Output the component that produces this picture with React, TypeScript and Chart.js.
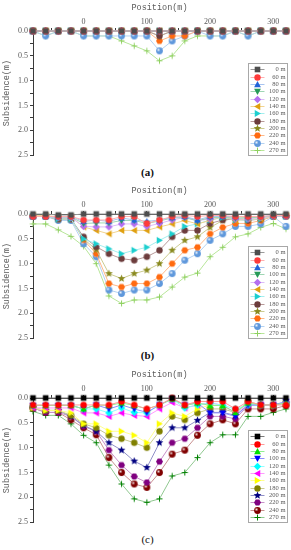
import React, { useEffect, useRef } from "react";
import { Chart, registerables } from "chart.js";
Chart.register(...registerables);

// ---------- DATA ----------
const POSITIONS = [-80, -60, -40, -20, 0, 20, 40, 60, 80, 100, 120, 140, 160, 180, 200, 220, 240, 260, 280, 300, 320];
const SERIES_LABELS = ["0 m", "60 m", "80 m", "100 m", "120 m", "140 m", "160 m", "180 m", "200 m", "220 m", "240 m", "270 m"];
const X_TICKS = [-50, 0, 50, 100, 150, 200, 250, 300];
const Y_TICKS = [0, 0.25, 0.5, 0.75, 1, 1.25, 1.5, 1.75, 2, 2.25, 2.5];

// Panel (a)
const A_0 = [0, 0, 0, 0, 0, 0, 0, 0, 0, 0, 0, 0, 0, 0, 0, 0, 0, 0, 0, 0, 0];
const A_60 = [0, 0, 0, 0, 0, 0, 0, 0, 0, 0, 0, 0, 0, 0, 0, 0, 0, 0, 0, 0, 0];
const A_80 = [0, 0, 0, 0, 0, 0, 0, 0, 0, 0, 0, 0, 0, 0, 0, 0, 0, 0, 0, 0, 0];
const A_100 = [0, 0, 0, 0, 0, 0, 0, 0, 0, 0, 0, 0, 0, 0, 0, 0, 0, 0, 0, 0, 0];
const A_120 = [0, 0, 0, 0, 0, 0, 0, 0, 0, 0, 0, 0, 0, 0, 0, 0, 0, 0, 0, 0, 0];
const A_140 = [0, 0, 0, 0, 0, 0, 0, 0, 0, 0, 0, 0, 0, 0, 0, 0, 0, 0, 0, 0, 0];
const A_160 = [0, 0, 0, 0, 0, 0, 0, 0, 0, 0, 0, 0, 0, 0, 0, 0, 0, 0, 0, 0, 0];
const A_180 = [0, 0, 0, 0, 0, 0, 0, 0, 0, 0, 0.1, 0, 0, 0, 0, 0, 0, 0, 0, 0, 0];
const A_200 = [0, 0, 0, 0, 0, 0, 0, 0, 0, 0, 0.1, 0, 0, 0, 0, 0, 0, 0, 0, 0, 0];
const A_220 = [0, 0, 0, 0, 0, 0, 0, 0, 0, 0, 0.2, 0.1, 0.1, 0, 0, 0, 0, 0, 0, 0, 0];
const A_240 = [0, 0.1, 0, 0, 0.1, 0.1, 0.1, 0.1, 0.1, 0.1, 0.4, 0.2, 0.1, 0, 0.1, 0.1, 0, 0.1, 0, 0, 0];
const A_270 = [0, 0.1, 0, 0, 0.1, 0.1, 0.1, 0.2, 0.3, 0.4, 0.6, 0.5, 0.2, 0.1, 0.1, 0.1, 0, 0.1, 0, 0, 0];

// Panel (b)
const B_0 = [0, 0, 0.02, 0.02, 0, 0, 0, 0, 0, 0, 0, 0, 0, 0, 0, 0, 0, 0, 0, 0, 0];
const B_60 = [0.05, 0.05, 0.05, 0.05, 0.12, 0.12, 0.12, 0.05, 0.05, 0.19, 0.12, 0.05, 0.03, 0.05, 0.03, 0.03, 0.05, 0.05, 0.05, 0.03, 0.03];
const B_80 = [0.05, 0.05, 0.05, 0.05, 0.15, 0.12, 0.15, 0.08, 0.12, 0.15, 0.12, 0.07, 0.05, 0.12, 0.05, 0.05, 0.05, 0.05, 0.05, 0.03, 0.03];
const B_100 = [0.05, 0.05, 0.06, 0.06, 0.19, 0.18, 0.18, 0.13, 0.13, 0.19, 0.14, 0.08, 0.07, 0.14, 0.07, 0.07, 0.08, 0.08, 0.06, 0.04, 0.04];
const B_120 = [0.05, 0.05, 0.07, 0.07, 0.25, 0.26, 0.26, 0.2, 0.2, 0.25, 0.19, 0.12, 0.07, 0.13, 0.1, 0.05, 0.1, 0.1, 0.07, 0.05, 0.05];
const B_140 = [0.03, 0.03, 0.06, 0.06, 0.26, 0.33, 0.4, 0.33, 0.33, 0.33, 0.26, 0.2, 0.13, 0.2, 0.13, 0.05, 0.13, 0.1, 0.1, 0.05, 0.03];
const B_160 = [0.05, 0.05, 0.1, 0.1, 0.5, 0.6, 0.7, 0.8, 0.73, 0.67, 0.53, 0.4, 0.25, 0.2, 0.12, 0.07, 0.12, 0.12, 0.1, 0.05, 0.05];
const B_180 = [0.05, 0.05, 0.1, 0.1, 0.46, 0.66, 0.8, 0.9, 0.93, 0.86, 0.73, 0.46, 0.33, 0.33, 0.19, 0.12, 0.1, 0.13, 0.1, 0.05, 0.05];
const B_200 = [0.05, 0.05, 0.1, 0.1, 0.5, 0.72, 1.2, 1.3, 1.2, 1.13, 1.0, 0.73, 0.53, 0.46, 0.27, 0.13, 0.09, 0.07, 0.07, 0.05, 0.05];
const B_220 = [0.05, 0.05, 0.1, 0.1, 0.52, 0.8, 1.4, 1.47, 1.4, 1.4, 1.27, 1.0, 0.73, 0.67, 0.4, 0.27, 0.19, 0.19, 0.13, 0.05, 0.05];
const B_240 = [0.05, 0.05, 0.13, 0.13, 0.6, 0.86, 1.53, 1.6, 1.53, 1.53, 1.4, 1.2, 0.93, 0.8, 0.53, 0.4, 0.25, 0.25, 0.2, 0.05, 0.25];
const B_270 = [0.2, 0.2, 0.32, 0.45, 0.65, 1.0, 1.65, 1.8, 1.73, 1.73, 1.67, 1.47, 1.27, 1.19, 0.86, 0.67, 0.46, 0.4, 0.27, 0.19, 0.3];

// Panel (c)
const C_0 = [0, 0, 0, 0, 0, 0, 0, 0, 0, 0, 0, 0, 0, 0, 0, 0, 0, 0, 0, 0, 0];
const C_60 = [0.14, 0.14, 0.14, 0.14, 0.14, 0.14, 0.14, 0.07, 0.14, 0.22, 0.14, 0.0, 0.14, 0.07, 0.07, 0.07, 0.22, 0.07, 0.14, 0.14, 0.14];
const C_80 = [0.15, 0.15, 0.15, 0.15, 0.22, 0.14, 0.15, 0.1, 0.15, 0.22, 0.14, 0.02, 0.15, 0.1, 0.15, 0.15, 0.29, 0.1, 0.14, 0.14, 0.1];
const C_100 = [0.15, 0.15, 0.15, 0.15, 0.22, 0.14, 0.22, 0.14, 0.22, 0.29, 0.14, 0.02, 0.14, 0.1, 0.3, 0.3, 0.37, 0.14, 0.14, 0.14, 0.07];
const C_120 = [0.15, 0.15, 0.14, 0.14, 0.22, 0.22, 0.3, 0.2, 0.29, 0.3, 0.14, 0.02, 0.2, 0.14, 0.1, 0.15, 0.22, 0.14, 0.14, 0.14, 0.1];
const C_140 = [0.2, 0.2, 0.2, 0.2, 0.3, 0.3, 0.37, 0.3, 0.35, 0.37, 0.22, 0.09, 0.2, 0.14, 0.09, 0.15, 0.3, 0.14, 0.14, 0.14, 0.1];
const C_160 = [0.2, 0.25, 0.25, 0.3, 0.52, 0.52, 0.67, 0.67, 0.75, 0.9, 0.52, 0.3, 0.37, 0.22, 0.14, 0.15, 0.3, 0.1, 0.14, 0.14, 0.1];
const C_180 = [0.2, 0.25, 0.25, 0.35, 0.52, 0.6, 0.75, 0.82, 0.9, 1.0, 0.67, 0.37, 0.44, 0.3, 0.22, 0.22, 0.29, 0.07, 0.14, 0.14, 0.1];
const C_200 = [0.2, 0.25, 0.25, 0.37, 0.55, 0.67, 0.9, 1.05, 1.27, 1.4, 0.9, 0.6, 0.6, 0.45, 0.29, 0.29, 0.35, 0.14, 0.14, 0.14, 0.1];
const C_220 = [0.2, 0.29, 0.29, 0.37, 0.57, 0.67, 1.05, 1.35, 1.58, 1.7, 1.28, 0.9, 0.82, 0.6, 0.37, 0.37, 0.42, 0.15, 0.15, 0.15, 0.09];
const C_240 = [0.2, 0.29, 0.29, 0.44, 0.6, 0.74, 1.2, 1.5, 1.73, 1.8, 1.5, 1.13, 1.05, 0.75, 0.52, 0.44, 0.52, 0.22, 0.22, 0.22, 0.15];
const C_270 = [0.27, 0.35, 0.35, 0.52, 0.75, 0.9, 1.35, 1.73, 2.03, 2.1, 2.03, 1.57, 1.5, 1.2, 0.9, 0.74, 0.74, 0.37, 0.37, 0.29, 0.22];

const PANEL_A = [A_0, A_60, A_80, A_100, A_120, A_140, A_160, A_180, A_200, A_220, A_240, A_270];
const PANEL_B = [B_0, B_60, B_80, B_100, B_120, B_140, B_160, B_180, B_200, B_220, B_240, B_270];
const PANEL_C = [C_0, C_60, C_80, C_100, C_120, C_140, C_160, C_180, C_200, C_220, C_240, C_270];

// ---------- STYLES ----------
type Sty = { shape: string; fill: string; line: string };
const STYLE_AB: Sty[] = [
  { shape: "square", fill: "#4d4d4d", line: "#9a9a9a" },
  { shape: "circle", fill: "#ff3b3b", line: "#ffb0b0" },
  { shape: "triUp", fill: "#2262d8", line: "#a8c4f0" },
  { shape: "triDown", fill: "#279a59", line: "#9fd6b4" },
  { shape: "diamond", fill: "#b46ff0", line: "#dcbcf8" },
  { shape: "triLeft", fill: "#e0a010", line: "#f2d490" },
  { shape: "triRight", fill: "#1ccfcf", line: "#a4eeee" },
  { shape: "circle", fill: "#6c3c3c", line: "#b89a9a" },
  { shape: "star", fill: "#8a8a20", line: "#cccc90" },
  { shape: "hexagon", fill: "#ff6a10", line: "#ffb888" },
  { shape: "sphere", fill: "#5f98dc", line: "#b4d2f2" },
  { shape: "plus", fill: "#8fd060", line: "#b8e69a" },
];
const STYLE_C: Sty[] = [
  { shape: "square", fill: "#000000", line: "#7a7a7a" },
  { shape: "circle", fill: "#ff0000", line: "#ff9a9a" },
  { shape: "triUp", fill: "#00e000", line: "#90f090" },
  { shape: "triDown", fill: "#0000ff", line: "#9090ff" },
  { shape: "diamond", fill: "#00ffff", line: "#90ffff" },
  { shape: "triLeft", fill: "#ff00ff", line: "#ff9aff" },
  { shape: "triRight", fill: "#ffff00", line: "#ffff90" },
  { shape: "circle", fill: "#808000", line: "#c8c890" },
  { shape: "star", fill: "#000080", line: "#9090c8" },
  { shape: "hexagon", fill: "#800080", line: "#c890c8" },
  { shape: "sphere", fill: "#800000", line: "#c89090" },
  { shape: "plus", fill: "#008000", line: "#90c890" },
];

function makeMarker(shape: string, fill: string): HTMLCanvasElement {
  const S = 9;
  const c = S / 2;
  const cv = document.createElement("canvas");
  cv.width = S;
  cv.height = S;
  const ctx = cv.getContext("2d")!;
  ctx.fillStyle = fill;
  ctx.strokeStyle = fill;
  const poly = (pts: number[][]) => {
    ctx.beginPath();
    pts.forEach((p, i) => (i ? ctx.lineTo(p[0], p[1]) : ctx.moveTo(p[0], p[1])));
    ctx.closePath();
    ctx.fill();
  };
  const r = 3.4;
  switch (shape) {
    case "square":
      ctx.fillRect(c - 2.8, c - 2.8, 5.6, 5.6);
      break;
    case "circle":
      ctx.beginPath();
      ctx.arc(c, c, 3.2, 0, Math.PI * 2);
      ctx.fill();
      break;
    case "triUp":
      poly([[c, c - r], [c + r, c + r * 0.8], [c - r, c + r * 0.8]]);
      break;
    case "triDown":
      poly([[c, c + r], [c + r, c - r * 0.8], [c - r, c - r * 0.8]]);
      break;
    case "triLeft":
      poly([[c - r, c], [c + r * 0.8, c - r], [c + r * 0.8, c + r]]);
      break;
    case "triRight":
      poly([[c + r, c], [c - r * 0.8, c - r], [c - r * 0.8, c + r]]);
      break;
    case "diamond":
      poly([[c, c - 3.7], [c + 3.7, c], [c, c + 3.7], [c - 3.7, c]]);
      break;
    case "star": {
      const pts: number[][] = [];
      for (let i = 0; i < 10; i++) {
        const rr = i % 2 === 0 ? 4.1 : 1.8;
        const a = -Math.PI / 2 + (i * Math.PI) / 5;
        pts.push([c + rr * Math.cos(a), c + rr * Math.sin(a)]);
      }
      poly(pts);
      break;
    }
    case "hexagon": {
      const pts: number[][] = [];
      for (let i = 0; i < 6; i++) {
        const a = (i * Math.PI) / 3;
        pts.push([c + 3.5 * Math.cos(a), c + 3.5 * Math.sin(a)]);
      }
      poly(pts);
      break;
    }
    case "sphere": {
      ctx.beginPath();
      ctx.arc(c, c, 3.4, 0, Math.PI * 2);
      ctx.fill();
      const g = ctx.createRadialGradient(c - 1, c - 1, 0, c - 1, c - 1, 2);
      g.addColorStop(0, "rgba(255,255,255,0.85)");
      g.addColorStop(1, "rgba(255,255,255,0)");
      ctx.fillStyle = g;
      ctx.beginPath();
      ctx.arc(c, c, 3.4, 0, Math.PI * 2);
      ctx.fill();
      break;
    }
    case "plus":
      ctx.lineWidth = 1;
      ctx.beginPath();
      ctx.moveTo(c - 3, c);
      ctx.lineTo(c + 3, c);
      ctx.moveTo(c, c - 3);
      ctx.lineTo(c, c + 3);
      ctx.stroke();
      break;
  }
  return cv;
}

const TEXT = "#5a5a5a";
const AXIS = "#3a3a3a";

const boxLegend = {
  id: "boxLegend",
  afterDatasetsDraw(chart: any) {
    const { ctx, chartArea } = chart;
    const x0 = Math.round(chartArea.right - 38) + 0.5;
    const x1 = Math.round(chartArea.right + 1) + 0.5;
    const y0 = Math.round(chartArea.top + 32) + 0.5;
    const y1 = Math.round(chartArea.bottom) + 0.5;
    ctx.save();
    ctx.fillStyle = "#ffffff";
    ctx.fillRect(x0, y0, x1 - x0, y1 - y0);
    ctx.strokeStyle = "#a8a8a8";
    ctx.lineWidth = 1;
    ctx.strokeRect(x0, y0, x1 - x0, y1 - y0);
    const dsets = chart.data.datasets;
    const n = dsets.length;
    const rowH = (y1 - y0 - 4) / n;
    ctx.font = "6.5px 'Liberation Serif'";
    ctx.textAlign = "right";
    ctx.textBaseline = "middle";
    dsets.forEach((ds: any, i: number) => {
      const cy = y0 + 2 + rowH * (i + 0.5);
      ctx.strokeStyle = ds.borderColor;
      ctx.beginPath();
      ctx.moveTo(x0 + 2, Math.round(cy) + 0.5);
      ctx.lineTo(x0 + 16, Math.round(cy) + 0.5);
      ctx.stroke();
      const img = ds.pointStyle as HTMLCanvasElement;
      ctx.drawImage(img, Math.round(x0 + 9 - img.width / 2), Math.round(cy - img.height / 2 + 0.5));
      ctx.fillStyle = TEXT;
      ctx.fillText(ds.label, x1 - 2, cy + 0.5);
    });
    ctx.restore();
  },
};

function Panel({ series, styles, caption, bold }: { series: number[][]; styles: Sty[]; caption: string; bold: boolean }) {
  const ref = useRef<HTMLCanvasElement | null>(null);
  useEffect(() => {
    if (!ref.current) return;
    const datasets = series.map((vals, i) => ({
      label: SERIES_LABELS[i],
      data: POSITIONS.map((x, j) => ({ x, y: vals[j] })),
      borderColor: styles[i].line,
      backgroundColor: styles[i].fill,
      borderWidth: 1,
      pointStyle: makeMarker(styles[i].shape, styles[i].fill),
      pointRadius: 3,
      tension: 0,
      clip: false as any,
    }));
    const chart = new Chart(ref.current, {
      type: "line",
      data: { datasets },
      plugins: [boxLegend],
      options: {
        animation: false,
        responsive: false,
        events: [],
        layout: { padding: { left: 0, right: 4, top: 0, bottom: 5 } },
        plugins: { legend: { display: false }, tooltip: { enabled: false } },
        scales: {
          x: {
            type: "linear",
            position: "top",
            min: -80,
            max: 320,
            afterBuildTicks: (s: any) => {
              s.ticks = X_TICKS.map((v) => ({ value: v }));
            },
            afterFit: (s: any) => {
              s.height = 31;
            },
            title: {
              display: true,
              text: "Position(m)",
              color: TEXT,
              font: { family: "'Liberation Mono'", size: 8.5 },
              padding: { top: 3, bottom: 0 },
            },
            ticks: {
              color: TEXT,
              font: { family: "'Liberation Serif'", size: 8 },
              padding: 1,
              maxRotation: 0,
              autoSkip: false,
              callback: (v: any) => (Number(v) % 100 === 0 ? String(v) : ""),
            },
            grid: { drawOnChartArea: false, drawTicks: true, tickLength: 3, color: AXIS },
            border: { display: true, color: AXIS, width: 1 },
          },
          y: {
            type: "linear",
            reverse: true,
            min: 0,
            max: 2.5,
            afterBuildTicks: (s: any) => {
              s.ticks = Y_TICKS.map((v) => ({ value: v }));
            },
            afterFit: (s: any) => {
              s.width = 33;
            },
            title: {
              display: true,
              text: "Subsidence(m)",
              color: TEXT,
              font: { family: "'Liberation Mono'", size: 8.5 },
              padding: { top: 2, bottom: 0 },
            },
            ticks: {
              color: TEXT,
              font: { family: "'Liberation Serif'", size: 8 },
              padding: 2,
              autoSkip: false,
              callback: (v: any) => (Math.round(Number(v) * 100) % 50 === 0 ? Number(v).toFixed(1) : ""),
            },
            grid: { drawOnChartArea: false, drawTicks: true, tickLength: 3, color: AXIS },
            border: { display: true, color: AXIS, width: 1 },
          },
        },
      },
    });
    return () => chart.destroy();
  }, [series, styles]);
  return (
    <div style={{ width: 291, height: 183.33, position: "relative" }}>
      <canvas ref={ref} width={291} height={162} style={{ display: "block" }} />
      <div
        style={{
          height: 21,
          lineHeight: "21px",
          textAlign: "center",
          fontFamily: "'Liberation Serif', serif",
          fontWeight: bold ? "bold" : "normal",
          fontSize: 11,
          color: "#111",
          paddingLeft: 4,
        }}
      >
        {caption}
      </div>
    </div>
  );
}

export default function App() {
  return (
    <div style={{ width: 291, height: 550, overflow: "hidden", background: "#fff" }}>
      <style>{"body{margin:0;background:#fff}"}</style>
      <Panel series={PANEL_A} styles={STYLE_AB} caption="(a)" bold={true} />
      <Panel series={PANEL_B} styles={STYLE_AB} caption="(b)" bold={true} />
      <Panel series={PANEL_C} styles={STYLE_C} caption="(c)" bold={false} />
    </div>
  );
}
